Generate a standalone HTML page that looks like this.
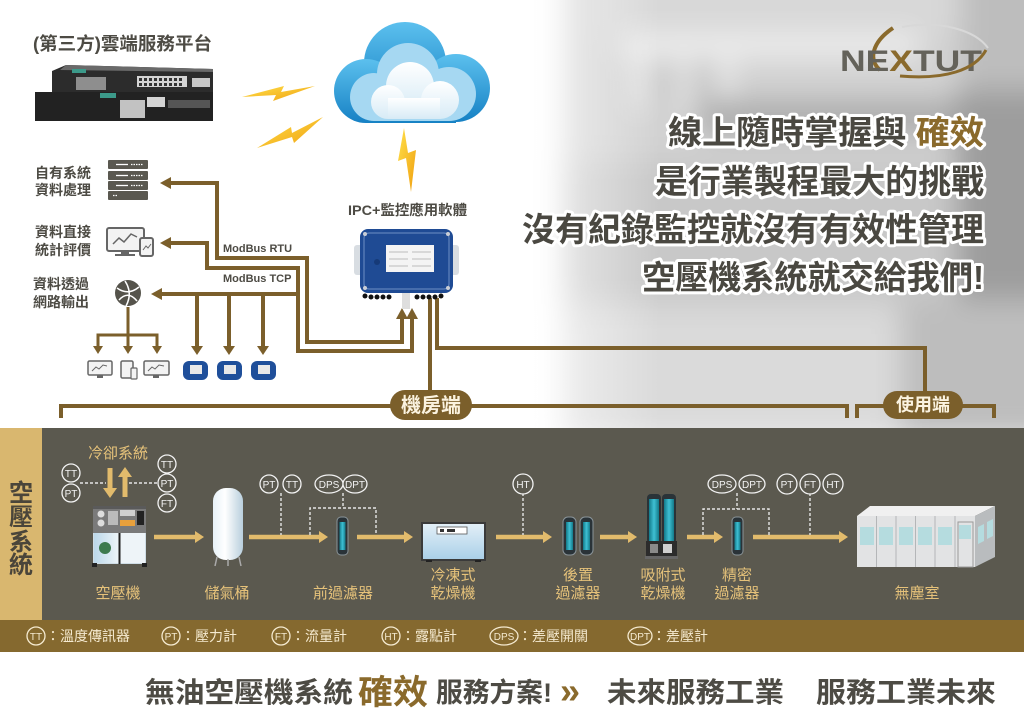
<!DOCTYPE html>
<html><head><meta charset="utf-8">
<style>
html,body{margin:0;padding:0;background:#fff;width:1024px;height:723px;overflow:hidden;}
svg{display:block;}
text{font-family:"Liberation Sans","Noto Sans CJK TC",sans-serif;}
</style></head><body>
<svg width="1024" height="723" viewBox="0 0 1024 723" xmlns="http://www.w3.org/2000/svg">
<defs>
<filter id="bl" filterUnits="userSpaceOnUse" x="300" y="-100" width="900" height="600"><feGaussianBlur stdDeviation="14"/></filter>
<linearGradient id="fade" x1="0" x2="1" y1="0" y2="0"><stop offset="0" stop-color="#fff" stop-opacity="1"/><stop offset="0.35" stop-color="#fff" stop-opacity="0.85"/><stop offset="1" stop-color="#fff" stop-opacity="0"/></linearGradient>
<linearGradient id="cg1" x1="0" y1="0" x2="0" y2="1"><stop offset="0" stop-color="#5cc0ee"/><stop offset="1" stop-color="#1681c4"/></linearGradient>
<linearGradient id="cg3" x1="0" y1="0" x2="0" y2="1"><stop offset="0" stop-color="#ffffff"/><stop offset="1" stop-color="#d7ebf6"/></linearGradient>
<linearGradient id="bolt" x1="0" y1="0" x2="1" y2="1"><stop offset="0" stop-color="#ffe04a"/><stop offset="1" stop-color="#f0a010"/></linearGradient>
<linearGradient id="tank" x1="0" y1="0" x2="1" y2="0"><stop offset="0" stop-color="#e8f2f8"/><stop offset="0.4" stop-color="#ffffff"/><stop offset="1" stop-color="#b9cfdd"/></linearGradient>
<linearGradient id="dry" x1="0" y1="0" x2="0" y2="1"><stop offset="0" stop-color="#e4f0f8"/><stop offset="1" stop-color="#a9cfe8"/></linearGradient>
<linearGradient id="cab" x1="0" y1="0" x2="1" y2="0"><stop offset="0" stop-color="#bcd8ea"/><stop offset="1" stop-color="#eef5f9"/></linearGradient>
<linearGradient id="teal" x1="0" y1="0" x2="1" y2="0"><stop offset="0" stop-color="#137a8a"/><stop offset="0.5" stop-color="#3fc0d4"/><stop offset="1" stop-color="#137a8a"/></linearGradient>
</defs>

<rect width="1024" height="723" fill="#fff"/>

<!-- blurred photo background -->
<g filter="url(#bl)">
  <rect x="560" y="-60" width="560" height="500" fill="#d2d2d2"/>
  <rect x="600" y="-60" width="520" height="95" fill="#d8d8d8"/>
  <rect x="620" y="35" width="300" height="22" fill="#efefef"/>
  <rect x="636" y="58" width="14" height="50" fill="#f2f2f2"/>
  <rect x="676" y="58" width="14" height="50" fill="#f2f2f2"/>
  <rect x="716" y="58" width="14" height="50" fill="#f2f2f2"/>
  <rect x="655" y="60" width="18" height="45" fill="#b8b8b8"/>
  <rect x="695" y="60" width="18" height="45" fill="#b8b8b8"/>
  <rect x="700" y="100" width="420" height="35" fill="#ababab"/>
  <rect x="955" y="90" width="160" height="240" fill="#9d9d9d"/>
  <rect x="960" y="-60" width="160" height="150" fill="#bdbdbd"/>
  <rect x="560" y="160" width="390" height="140" fill="#c8c8c8"/>
  <rect x="560" y="310" width="340" height="130" fill="#dadada"/>
  <rect x="900" y="300" width="220" height="140" fill="#bdbdbd"/>
</g>
<rect x="420" y="0" width="240" height="430" fill="url(#fade)"/>
<rect x="0" y="0" width="440" height="430" fill="#fff"/>

<!-- Title top-left -->
<text x="33" y="50" font-size="18" font-weight="bold" fill="#4d4b44" textLength="179" lengthAdjust="spacingAndGlyphs">(第三方)雲端服務平台</text>

<!-- switch -->
<polygon points="52,71 66,65 213,69 213,98 52,98" fill="#2c2c2c"/>
<polygon points="66,65 213,69 213,72 60,70" fill="#6a6a6a"/>
<rect x="72" y="69" width="14" height="4" fill="#3c9a8a"/>
<rect x="76" y="77" width="30" height="13" fill="#8e8e8e"/>
<rect x="137" y="76" width="50" height="11" fill="#d4d4d4"/>
<g fill="#333"><rect x="139" y="78" width="3" height="3"/><rect x="144" y="78" width="3" height="3"/><rect x="149" y="78" width="3" height="3"/><rect x="154" y="78" width="3" height="3"/><rect x="159" y="78" width="3" height="3"/><rect x="164" y="78" width="3" height="3"/><rect x="169" y="78" width="3" height="3"/><rect x="174" y="78" width="3" height="3"/><rect x="179" y="78" width="3" height="3"/><rect x="139" y="83" width="3" height="3"/><rect x="144" y="83" width="3" height="3"/><rect x="149" y="83" width="3" height="3"/><rect x="154" y="83" width="3" height="3"/><rect x="159" y="83" width="3" height="3"/><rect x="164" y="83" width="3" height="3"/><rect x="169" y="83" width="3" height="3"/><rect x="174" y="83" width="3" height="3"/><rect x="179" y="83" width="3" height="3"/></g>
<rect x="192" y="78" width="18" height="9" fill="#c8c8c8"/>
<rect x="35" y="92" width="178" height="29" fill="#222"/>
<rect x="100" y="93" width="16" height="5" fill="#3c9a8a"/>
<rect x="120" y="100" width="25" height="18" fill="#c2c2c2"/>
<rect x="147" y="97" width="18" height="10" fill="#d4d4d4"/>
<rect x="168" y="100" width="42" height="8" fill="#555"/>

<!-- lightning -->
<polygon points="242,97 284,86 281,92 315,86 273,101 276,95" fill="url(#bolt)"/>
<polygon points="257,148 291,127 292,133 323,117 294,143 292,137" fill="url(#bolt)"/>
<polygon points="404,128 398,161 406,158 411,192 416,150 408,153" fill="url(#bolt)"/>

<!-- cloud -->
<g fill="url(#cg1)">
  <circle cx="405" cy="63" r="41"/><circle cx="366" cy="91" r="32"/><circle cx="456" cy="88" r="34"/>
  <rect x="366" y="80" width="90" height="43"/>
</g>
<g fill="#a6d8f2">
  <circle cx="408" cy="74" r="31"/><circle cx="374" cy="97" r="24"/><circle cx="449" cy="94" r="27"/>
  <rect x="374" y="90" width="75" height="31"/>
</g>
<g fill="url(#cg3)">
  <circle cx="410" cy="86" r="24"/><circle cx="388" cy="102" r="17"/><circle cx="440" cy="100" r="19"/>
  <rect x="388" y="98" width="52" height="21"/>
</g>

<!-- logo -->
<path d="M893 28 C 872 42, 868 60, 880 70" fill="none" stroke="#8a6a2c" stroke-width="4"/>
<path d="M902 27 C 940 20, 975 30, 988 48" fill="none" stroke="#d8d8d8" stroke-width="2"/>
<text x="840" y="71" font-size="30" font-weight="bold" fill="#64625a" textLength="142" lengthAdjust="spacingAndGlyphs">NE<tspan fill="#8a6a2c">X</tspan>TUT</text>
<path d="M900 76 C 945 80, 975 70, 986 50" fill="none" stroke="#8a6a2c" stroke-width="3"/>

<!-- headline -->
<g font-size="33" font-weight="bold" fill="#4a4841" stroke="#fff" stroke-width="6" stroke-linejoin="round" paint-order="stroke" text-anchor="end">
  <text x="984" y="144" textLength="316" lengthAdjust="spacingAndGlyphs">線上隨時掌握與 <tspan fill="#8a6a2c">確效</tspan></text>
  <text x="984" y="193" textLength="329" lengthAdjust="spacingAndGlyphs">是行業製程最大的挑戰</text>
  <text x="984" y="241" textLength="462" lengthAdjust="spacingAndGlyphs">沒有紀錄監控就沒有有效性管理</text>
  <text x="984" y="289" textLength="342" lengthAdjust="spacingAndGlyphs">空壓機系統就交給我們!</text>
</g>

<!-- left labels -->
<g font-size="14" font-weight="bold" fill="#4d4b44">
  <text x="35" y="178">自有系統</text><text x="35" y="195">資料處理</text>
  <text x="35" y="237">資料直接</text><text x="35" y="255">統計評價</text>
  <text x="33" y="289">資料透過</text><text x="33" y="307">網路輸出</text>
</g>

<!-- server icon -->
<g fill="#5a5850">
  <rect x="108" y="160" width="40" height="9" rx="1"/><rect x="108" y="171" width="40" height="9" rx="1"/>
  <rect x="108" y="181" width="40" height="9" rx="1"/><rect x="108" y="191" width="40" height="9" rx="1"/>
</g>
<g stroke="#fff" stroke-width="1.3">
  <line x1="116" y1="164.5" x2="128" y2="164.5"/><line x1="131" y1="164.5" x2="143" y2="164.5" stroke-dasharray="1.5 1"/>
  <line x1="116" y1="175.5" x2="128" y2="175.5"/><line x1="131" y1="175.5" x2="143" y2="175.5" stroke-dasharray="1.5 1"/>
  <line x1="116" y1="185.5" x2="128" y2="185.5"/><line x1="131" y1="185.5" x2="143" y2="185.5" stroke-dasharray="1.5 1"/>
  <line x1="113" y1="195.5" x2="118" y2="195.5" stroke-dasharray="1.5 1"/>
</g>

<!-- monitor icon -->
<rect x="107" y="228" width="37" height="23" rx="2" fill="#f3f3f3" stroke="#666" stroke-width="2"/>
<polyline points="113,244 119,238 124,242 131,234 137,237" fill="none" stroke="#666" stroke-width="1.5"/>
<rect x="121" y="251" width="8" height="4" fill="#666"/><rect x="115" y="254" width="20" height="2" fill="#666"/>
<rect x="140" y="238" width="13" height="18" rx="2" fill="#f3f3f3" stroke="#666" stroke-width="2"/>
<polyline points="143,250 146,246 148,248 151,244" fill="none" stroke="#666" stroke-width="1"/>

<!-- globe -->
<circle cx="128" cy="293" r="13" fill="#55534b"/>
<path d="M117 288 Q128 296 139 287 M119 300 Q128 290 137 301 M125 281 Q133 293 126 306" fill="none" stroke="#fff" stroke-width="1.5"/>

<!-- connectors top -->
<g fill="none" stroke="#7b5f2b" stroke-width="4" stroke-linejoin="miter">
  <polyline points="170,183 217,183 217,258 307,258 307,342 402,342 402,316"/>
  <polyline points="170,243 207,243 207,268 298,268 298,351 412,351 412,316"/>
  <polyline points="160,294 298,294"/>
  <line x1="197" y1="294" x2="197" y2="347"/><line x1="229" y1="294" x2="229" y2="347"/><line x1="263" y1="294" x2="263" y2="347"/>
  <polyline points="430,298 430,391"/>
  <polyline points="437,298 437,348 925,348 925,392"/>
  <polyline points="61,418 61,406 847,406 847,418"/>
  <polyline points="857,418 857,406 994,406 994,418"/>
</g>
<g fill="none" stroke="#7b5f2b" stroke-width="3">
  <line x1="128" y1="307" x2="128" y2="335"/>
  <line x1="96.5" y1="335" x2="158.5" y2="335"/>
  <line x1="98" y1="335" x2="98" y2="347"/><line x1="128" y1="335" x2="128" y2="347"/><line x1="157" y1="335" x2="157" y2="347"/>
</g>
<g fill="#7b5f2b">
  <polygon points="160,183 171,177 171,189"/>
  <polygon points="160,243 171,237 171,249"/>
  <polygon points="151,294 162,288 162,300"/>
  <polygon points="402,308 396,319 408,319"/>
  <polygon points="412,308 406,319 418,319"/>
  <polygon points="191,346 203,346 197,355"/><polygon points="223,346 235,346 229,355"/><polygon points="257,346 269,346 263,355"/>
  <polygon points="93,346 103,346 98,354"/><polygon points="123,346 133,346 128,354"/><polygon points="152,346 162,346 157,354"/>
</g>

<g font-size="11" font-weight="bold" fill="#4d4b44">
  <text x="223" y="252">ModBus RTU</text>
  <text x="223" y="282">ModBus TCP</text>
</g>

<!-- small monitors -->
<rect x="88" y="361" width="24" height="14" rx="1.5" fill="#f3f3f3" stroke="#666" stroke-width="1.5"/>
<polyline points="92,371 96,367 99,369 103,365 107,366" fill="none" stroke="#666" stroke-width="1"/>
<rect x="97" y="375" width="6" height="3" fill="#666"/>
<rect x="121" y="361" width="12" height="17" rx="1.5" fill="#f3f3f3" stroke="#666" stroke-width="1.5"/>
<rect x="131" y="368" width="6" height="11" rx="1" fill="#f3f3f3" stroke="#666" stroke-width="1.2"/>
<rect x="144" y="361" width="25" height="14" rx="1.5" fill="#f3f3f3" stroke="#666" stroke-width="1.5"/>
<polyline points="148,371 152,367 155,369 159,365 164,366" fill="none" stroke="#666" stroke-width="1"/>
<rect x="153" y="375" width="6" height="3" fill="#666"/>

<!-- small blue devices -->
<g>
  <rect x="183" y="361" width="25" height="19" rx="6" fill="#1f4f9a"/><rect x="190" y="365" width="12" height="9" fill="#e8e8e8"/>
  <rect x="217" y="361" width="25" height="19" rx="6" fill="#1f4f9a"/><rect x="224" y="365" width="12" height="9" fill="#e8e8e8"/>
  <rect x="251" y="361" width="25" height="19" rx="6" fill="#1f4f9a"/><rect x="258" y="365" width="12" height="9" fill="#e8e8e8"/>
</g>

<!-- IPC -->
<text x="348" y="215" font-size="14" font-weight="bold" fill="#4d4b44" textLength="119" lengthAdjust="spacingAndGlyphs">IPC+監控應用軟體</text>
<rect x="354" y="245" width="10" height="30" rx="3" fill="#d8dde2"/>
<rect x="449" y="245" width="10" height="30" rx="3" fill="#d8dde2"/>
<rect x="360" y="229" width="93" height="64" rx="8" fill="#1f4b94"/>
<rect x="364" y="233" width="85" height="56" rx="5" fill="none" stroke="#6d8fc4" stroke-width="1"/>
<g fill="#c9ced6"><circle cx="365" cy="234" r="2"/><circle cx="448" cy="234" r="2"/><circle cx="365" cy="288" r="2"/><circle cx="448" cy="288" r="2"/></g>
<rect x="386" y="245" width="48" height="27" fill="#f4f4f4"/>
<g stroke="#bbb" stroke-width="1"><line x1="389" y1="252" x2="408" y2="252"/><line x1="412" y1="252" x2="431" y2="252"/><line x1="389" y1="259" x2="408" y2="259"/><line x1="412" y1="259" x2="431" y2="259"/><line x1="389" y1="266" x2="408" y2="266"/><line x1="412" y1="266" x2="431" y2="266"/></g>
<circle cx="377" cy="262" r="3" fill="#163a78"/>
<rect x="402" y="293" width="8" height="16" fill="#dedede"/>
<g fill="#111"><circle cx="365" cy="296" r="2.5"/><circle cx="371" cy="297" r="2.5"/><circle cx="377" cy="297" r="2.5"/><circle cx="383" cy="297" r="2.5"/><circle cx="389" cy="297" r="2.5"/><circle cx="417" cy="297" r="2.5"/><circle cx="423" cy="297" r="2.5"/><circle cx="429" cy="297" r="2.5"/><circle cx="435" cy="297" r="2.5"/><circle cx="441" cy="296" r="2.5"/></g>

<!-- pills -->
<rect x="390" y="390" width="82" height="30" rx="15" fill="#7b5f2b"/>
<text x="431" y="412" font-size="20" font-weight="bold" fill="#fbf3e0" text-anchor="middle">機房端</text>
<rect x="883" y="391" width="80" height="28" rx="14" fill="#7b5f2b"/>
<text x="923" y="411" font-size="18" font-weight="bold" fill="#fbf3e0" text-anchor="middle">使用端</text>

<!-- band -->
<rect x="0" y="428" width="1024" height="192" fill="#5b594f"/>
<rect x="0" y="428" width="42" height="192" fill="#d9b76f"/>
<g font-size="24" font-weight="bold" fill="#4a453a" text-anchor="middle">
  <text x="21" y="501">空</text><text x="21" y="525">壓</text><text x="21" y="550">系</text><text x="21" y="573">統</text>
</g>

<!-- flow arrows -->
<g stroke="#e2bb6c" stroke-width="4.5" fill="none">
  <line x1="154" y1="537" x2="196" y2="537"/>
  <line x1="249" y1="537" x2="320" y2="537"/>
  <line x1="357" y1="537" x2="405" y2="537"/>
  <line x1="496" y1="537" x2="544" y2="537"/>
  <line x1="600" y1="537" x2="629" y2="537"/>
  <line x1="687" y1="537" x2="715" y2="537"/>
  <line x1="753" y1="537" x2="840" y2="537"/>
  <line x1="110" y1="468" x2="110" y2="489" stroke-width="5"/>
  <line x1="125" y1="476" x2="125" y2="497" stroke-width="5"/>
</g>
<g fill="#e2bb6c">
  <polygon points="195,531 204,537 195,543"/>
  <polygon points="319,531 328,537 319,543"/>
  <polygon points="404,531 413,537 404,543"/>
  <polygon points="543,531 552,537 543,543"/>
  <polygon points="628,531 637,537 628,543"/>
  <polygon points="714,531 723,537 714,543"/>
  <polygon points="839,531 848,537 839,543"/>
  <polygon points="103,488 117,488 110,498"/>
  <polygon points="118,477 132,477 125,467"/>
</g>

<!-- dashed sensor lines -->
<g stroke="#e6e6e6" stroke-width="1.4" stroke-dasharray="3 2" fill="none">
  <line x1="80" y1="483" x2="106" y2="483"/><line x1="129" y1="483" x2="158" y2="483"/>
  <line x1="281" y1="493" x2="281" y2="535"/>
  <polyline points="343,493 343,508"/><polyline points="310,535 310,508 376,508 376,535"/>
  <line x1="523" y1="493" x2="523" y2="535"/>
  <polyline points="737,493 737,509"/><polyline points="703,535 703,509 769,509 769,535"/>
  <line x1="810" y1="493" x2="810" y2="535"/>
</g>

<!-- sensors -->
<g fill="#5b594f" stroke="#f2f2f2" stroke-width="1.3">
  <circle cx="71" cy="473" r="9"/><circle cx="71" cy="493" r="9"/>
  <circle cx="167" cy="464" r="9"/><circle cx="167" cy="483" r="9"/><circle cx="167" cy="503" r="9"/>
  <circle cx="269" cy="484" r="9"/><circle cx="292" cy="484" r="9"/>
  <ellipse cx="329" cy="484" rx="14" ry="9"/><ellipse cx="355" cy="484" rx="12" ry="9"/>
  <circle cx="523" cy="484" r="10"/>
  <ellipse cx="722" cy="484" rx="14" ry="9"/><ellipse cx="752" cy="484" rx="13" ry="9"/>
  <circle cx="787" cy="484" r="10"/><circle cx="810" cy="484" r="10"/><circle cx="833" cy="484" r="10"/>
</g>
<g font-size="10" fill="#f4f4f4" text-anchor="middle">
  <text x="71" y="477">TT</text><text x="71" y="497">PT</text>
  <text x="167" y="468">TT</text><text x="167" y="487">PT</text><text x="167" y="507">FT</text>
  <text x="269" y="488">PT</text><text x="292" y="488">TT</text>
  <text x="329" y="488">DPS</text><text x="355" y="488">DPT</text>
  <text x="523" y="488">HT</text>
  <text x="722" y="488">DPS</text><text x="752" y="488">DPT</text>
  <text x="787" y="488">PT</text><text x="810" y="488">FT</text><text x="833" y="488">HT</text>
</g>

<!-- compressor -->
<rect x="93" y="506" width="53" height="58" fill="#cfdde6"/>
<rect x="93" y="506" width="53" height="27" fill="#7a7a7a"/>
<rect x="93" y="506" width="53" height="3" fill="#5a5a5a"/>
<circle cx="101" cy="514" r="3.5" fill="#ddd"/><circle cx="101" cy="523" r="3.5" fill="#ddd"/>
<rect x="108" y="511" width="10" height="14" fill="#bbb"/>
<rect x="120" y="510" width="15" height="6" fill="#cfcfcf"/>
<rect x="120" y="520" width="15" height="6" fill="#e8a03c"/>
<rect x="137" y="511" width="7" height="14" fill="#222"/>
<rect x="94" y="533" width="25" height="30" fill="url(#cab)"/>
<rect x="120" y="533" width="25" height="30" fill="#eef4f8"/>
<line x1="119.5" y1="533" x2="119.5" y2="564" stroke="#222" stroke-width="2"/>
<circle cx="105" cy="548" r="6" fill="#3d7a4e"/>
<rect x="92" y="563" width="5" height="4" fill="#222"/><rect x="142" y="563" width="5" height="4" fill="#222"/>

<!-- tank -->
<rect x="213" y="488" width="30" height="72" rx="13" fill="url(#tank)"/>
<g stroke="#aaa" stroke-width="1.5"><line x1="217" y1="557" x2="215" y2="566"/><line x1="228" y1="559" x2="228" y2="566"/><line x1="239" y1="557" x2="241" y2="566"/></g>

<!-- filters -->
<g>
  <rect x="337" y="517" width="11" height="38" rx="4" fill="#2a3338" stroke="#8a9499" stroke-width="1"/>
  <rect x="339.5" y="522" width="6" height="28" fill="url(#teal)"/>
  <rect x="563" y="517" width="13" height="38" rx="5" fill="#2a3338" stroke="#8a9499" stroke-width="1"/>
  <rect x="566" y="522" width="7" height="28" fill="url(#teal)"/>
  <rect x="580" y="517" width="13" height="38" rx="5" fill="#2a3338" stroke="#8a9499" stroke-width="1"/>
  <rect x="583" y="522" width="7" height="28" fill="url(#teal)"/>
  <rect x="732" y="517" width="11" height="38" rx="4" fill="#2a3338" stroke="#8a9499" stroke-width="1"/>
  <rect x="734.5" y="522" width="6" height="28" fill="url(#teal)"/>
</g>

<!-- refrigerated dryer -->
<rect x="422" y="523" width="63" height="37" fill="url(#dry)" stroke="#3a3a3a" stroke-width="2"/>
<rect x="437" y="527" width="30" height="7" fill="#fff" stroke="#555" stroke-width="0.8"/>
<rect x="440" y="529" width="4" height="3" fill="#333"/><rect x="447" y="529" width="8" height="3" fill="#333"/>
<rect x="426" y="560" width="6" height="2" fill="#222"/><rect x="475" y="560" width="6" height="2" fill="#222"/>

<!-- adsorption dryer -->
<rect x="647" y="494" width="14" height="50" rx="4" fill="#2a3338"/>
<rect x="649" y="499" width="10" height="42" fill="url(#teal)"/>
<rect x="662" y="494" width="14" height="50" rx="4" fill="#2a3338"/>
<rect x="664" y="499" width="10" height="42" fill="url(#teal)"/>
<rect x="646" y="541" width="31" height="17" fill="#2c2c2c"/>
<rect x="650" y="544" width="8" height="9" fill="#8a8a8a"/><rect x="663" y="544" width="9" height="9" fill="#cfcfcf"/>
<rect x="645" y="556" width="33" height="3" fill="#666"/>

<!-- cleanroom -->
<polygon points="857,516 870,506 995,506 975,516" fill="#f0f0f0"/>
<polygon points="975,516 995,506 995,557 975,567" fill="#b9bcbe"/>
<rect x="857" y="516" width="118" height="51" fill="#e2e3e4"/>
<g stroke="#b4b6b8" stroke-width="1">
  <line x1="876.5" y1="516" x2="876.5" y2="567"/><line x1="896" y1="516" x2="896" y2="567"/><line x1="915.5" y1="516" x2="915.5" y2="567"/><line x1="935" y1="516" x2="935" y2="567"/><line x1="955" y1="516" x2="955" y2="567"/>
</g>
<g fill="#b5dcdf">
  <rect x="860" y="527" width="14" height="18"/><rect x="879" y="527" width="14" height="18"/><rect x="899" y="527" width="14" height="18"/><rect x="918" y="527" width="14" height="18"/><rect x="938" y="527" width="14" height="18"/><rect x="959" y="525" width="12" height="14"/>
  <polygon points="978,527 984,524 984,541 978,544"/><polygon points="987,522 993,519 993,536 987,539"/>
</g>
<rect x="958" y="522" width="15" height="45" fill="none" stroke="#999" stroke-width="1"/>

<!-- band labels -->
<g font-size="15" fill="#e6c27a" text-anchor="middle">
  <text x="118" y="458">冷卻系統</text>
  <text x="118" y="598">空壓機</text>
  <text x="227" y="598">儲氣桶</text>
  <text x="343" y="598">前過濾器</text>
  <text x="453" y="580">冷凍式</text><text x="453" y="598">乾燥機</text>
  <text x="578" y="580">後置</text><text x="578" y="598">過濾器</text>
  <text x="663" y="580">吸附式</text><text x="663" y="598">乾燥機</text>
  <text x="737" y="580">精密</text><text x="737" y="598">過濾器</text>
  <text x="917" y="598">無塵室</text>
</g>

<!-- legend -->
<rect x="0" y="620" width="1024" height="32" fill="#85692f"/>
<g fill="none" stroke="#f5ead0" stroke-width="1.3">
  <circle cx="36" cy="636" r="9"/><circle cx="171" cy="636" r="9"/><circle cx="281" cy="636" r="9"/><circle cx="391" cy="636" r="9"/>
  <ellipse cx="504" cy="636" rx="14" ry="9"/><ellipse cx="640" cy="636" rx="12" ry="9"/>
</g>
<g font-size="10" fill="#f5ead0" text-anchor="middle">
  <text x="36" y="640">TT</text><text x="171" y="640">PT</text><text x="281" y="640">FT</text><text x="391" y="640">HT</text><text x="504" y="640">DPS</text><text x="640" y="640">DPT</text>
</g>
<g font-size="14" fill="#f5ead0">
  <text x="46" y="641">：溫度傳訊器</text>
  <text x="181" y="641">：壓力計</text>
  <text x="291" y="641">：流量計</text>
  <text x="401" y="641">：露點計</text>
  <text x="518" y="641">：差壓開關</text>
  <text x="652" y="641">：差壓計</text>
</g>

<!-- footer -->
<g font-weight="bold" fill="#4d4b44">
  <text x="145" y="702" font-size="28" textLength="208" lengthAdjust="spacingAndGlyphs">無油空壓機系統</text>
  <text x="358" y="704" font-size="34" fill="#8a6a2c" textLength="70" lengthAdjust="spacingAndGlyphs">確效</text>
  <text x="436" y="702" font-size="27" textLength="116" lengthAdjust="spacingAndGlyphs">服務方案!</text>
  <text x="560" y="703" font-size="36" fill="#8a6a2c">»</text>
  <text x="607" y="702" font-size="28" textLength="177" lengthAdjust="spacingAndGlyphs">未來服務工業</text>
  <text x="816" y="702" font-size="28" textLength="180" lengthAdjust="spacingAndGlyphs">服務工業未來</text>
</g>
</svg>
</body></html>
